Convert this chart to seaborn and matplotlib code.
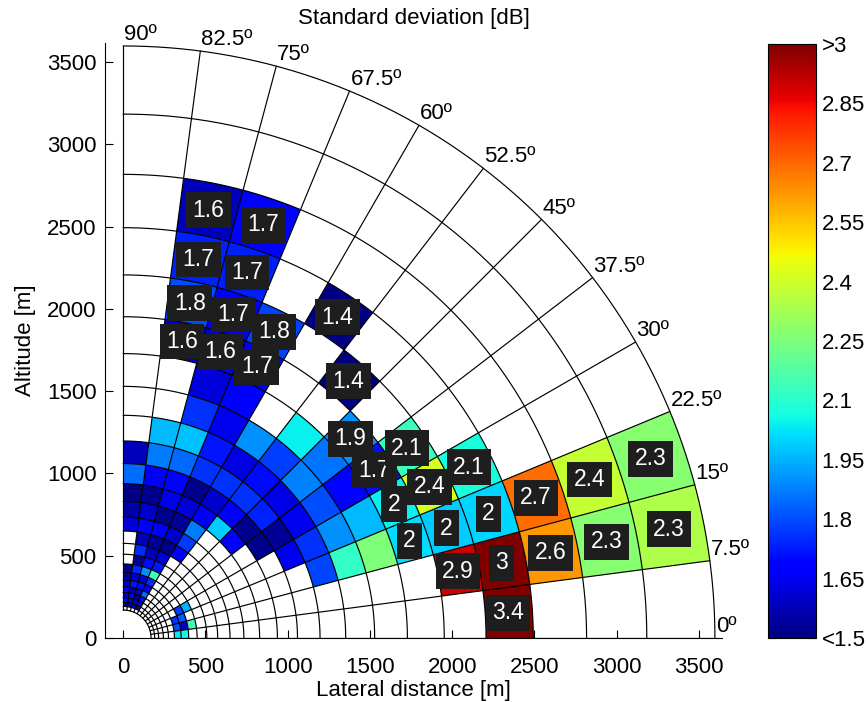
import numpy as np
import matplotlib
matplotlib.use("Agg")
import matplotlib.pyplot as plt
import seaborn as sns
from matplotlib.patches import Polygon
from matplotlib.collections import PatchCollection
from matplotlib.colors import Normalize

sns.set_style("ticks", {"xtick.direction": "in", "ytick.direction": "in"})
plt.rcParams['font.family'] = ['Liberation Sans', 'DejaVu Sans']
for k in ['text.color', 'axes.labelcolor', 'xtick.color', 'ytick.color', 'axes.edgecolor']:
    plt.rcParams[k] = 'black'

N = np.nan
# ring boundaries (m) and sector boundaries (deg)
ring_edges = [170, 192, 216, 245, 276, 312, 353, 399, 450, 509, 575, 650, 734,
              830, 938, 1060, 1197, 1353, 1529, 1728, 1952, 2206, 2493, 2817, 3183, 3597]
sector_edges = [0, 7.5, 15, 22.5, 30, 37.5, 45, 52.5, 60, 67.5, 75, 82.5, 90]
angle_labels = ["0º", "7.5º", "15º", "22.5º", "30º", "37.5º", "45º", "52.5º",
                "60º", "67.5º", "75º", "82.5º", "90º"]

# standard deviation [dB] per sector (0-7.5 deg ... 82.5-90 deg), rings inner -> outer
sd_sector_00 = [N, N, N, N, N, 2.03, 2.06, N, N, N, N, N, N, N, N, N, N, N, N, N, N, 3.40, N, N, N]
sd_sector_01 = [N, N, N, N, N, 1.80, 1.60, 2.15, N, N, N, N, N, N, N, N, N, N, N, N, 2.90, 3.00, 2.62, 2.27, 2.34]
sd_sector_02 = [N, N, N, N, N, 1.76, 1.82, N, N, N, N, N, N, N, N, N, 1.79, 2.12, 2.25, 2.01, 1.99, 2.00, 2.69, 2.38, 2.27]
sd_sector_03 = [N, N, N, N, N, N, 1.78, 1.95, N, N, N, N, N, N, N, 1.65, 1.76, 1.90, 1.96, 2.04, 2.41, 2.07, N, N, N]
sd_sector_04 = [N, N, N, N, N, N, N, N, N, N, N, N, N, N, 1.52, 1.53, 1.65, 1.80, 1.69, 1.71, 2.13, N, N, N, N]
sd_sector_05 = [N, N, N, N, N, N, N, N, N, N, N, N, N, 1.69, 1.52, 1.74, 1.64, 1.88, 1.86, 1.90, N, N, N, N, N]
sd_sector_06 = [N, N, N, N, N, N, N, N, N, N, N, N, N, 1.99, 1.67, 1.76, 1.70, 1.78, 2.04, N, 1.40, N, N, N, N]
sd_sector_07 = [N, N, N, N, N, N, N, N, N, N, 1.68, 1.77, 1.87, 1.68, 1.60, 1.76, 1.63, 1.90, N, N, N, 1.40, N, N, N]
sd_sector_08 = [N, 1.55, 1.60, 1.70, 1.85, 1.66, 1.75, 2.15, 1.72, 1.62, 1.52, 1.60, 1.53, 1.62, 1.52, 1.76, 1.72, 1.65, 1.68, 1.68, 1.79, N, N, N, N]
sd_sector_09 = [N, 1.58, 1.65, 1.52, 1.60, 1.70, 1.62, 1.90, 1.70, 1.58, 1.53, 1.68, 1.52, 1.65, 1.69, 1.84, 1.97, 1.76, 1.62, 1.63, 1.68, 1.73, 1.69, N, N]
sd_sector_10 = [N, 1.55, 1.62, 1.70, 1.55, 1.72, 1.60, 1.75, 1.52, 1.75, 1.58, 1.68, 1.60, 1.52, 1.66, 1.87, 1.96, N, N, 1.60, 1.80, 1.74, 1.58, N, N]
sd_sector_11 = [N, 1.55, 1.70, 1.60, 1.69, 1.62, 1.55, 1.52, N, N, N, 1.62, 1.55, 1.50, 1.85, 1.58, N, N, N, N, N, N, N, N, N]

first_labelled_ring = 19
cbar_ticks = [1.5, 1.65, 1.8, 1.95, 2.1, 2.25, 2.4, 2.55, 2.7, 2.85, 3.0]
cbar_ticklabels = ["<1.5", "1.65", "1.8", "1.95", "2.1", "2.25", "2.4", "2.55", "2.7", "2.85", ">3"]
axis_ticks = [0, 500, 1000, 1500, 2000, 2500, 3000, 3500]

sectors = [sd_sector_00, sd_sector_01, sd_sector_02, sd_sector_03, sd_sector_04, sd_sector_05,
           sd_sector_06, sd_sector_07, sd_sector_08, sd_sector_09, sd_sector_10, sd_sector_11]

cmap = matplotlib.colormaps["jet"]
norm = Normalize(vmin=1.5, vmax=3.0)

W, H = 866, 702
fig = plt.figure(figsize=(W / 100, H / 100), dpi=100)
ax = fig.add_axes([105 / W, 64 / H, 617 / W, 595 / H])
cax = fig.add_axes([768 / W, 64 / H, 48 / W, 594 / H])

patches, vals, labels = [], [], []
for k, row in enumerate(sectors):
    a0, a1 = np.radians(sector_edges[k]), np.radians(sector_edges[k + 1])
    th = np.linspace(a0, a1, 20)
    for i, v in enumerate(row):
        if np.isnan(v):
            continue
        r0, r1 = ring_edges[i], ring_edges[i + 1]
        xs = np.concatenate([r1 * np.cos(th), r0 * np.cos(th[::-1])])
        ys = np.concatenate([r1 * np.sin(th), r0 * np.sin(th[::-1])])
        patches.append(Polygon(np.column_stack([xs, ys]), closed=True))
        vals.append(v)
        if i >= first_labelled_ring:
            rc = np.sqrt(r0 * r1)
            ac = 0.5 * (a0 + a1)
            labels.append((rc * np.cos(ac), rc * np.sin(ac), "%g" % round(v, 1)))

pc = PatchCollection(patches, cmap=cmap, norm=norm, edgecolor='none', linewidth=0)
pc.set_array(np.array(vals))
ax.add_collection(pc)

# grid of rings and radial lines
tt = np.radians(np.linspace(0, 90, 300))
for r in ring_edges:
    ax.plot(r * np.cos(tt), r * np.sin(tt), color='black', lw=0.85, zorder=3)
for a in sector_edges:
    ar = np.radians(a)
    ax.plot([ring_edges[0] * np.cos(ar), ring_edges[-1] * np.cos(ar)],
            [ring_edges[0] * np.sin(ar), ring_edges[-1] * np.sin(ar)],
            color='black', lw=0.85, zorder=3)
    ax.text(ring_edges[-1] * np.cos(ar) + 5, ring_edges[-1] * np.sin(ar) + 5,
            angle_labels[sector_edges.index(a)], ha='left', va='bottom', fontsize=16, zorder=5)

for x, y, s in labels:
    ax.text(x, y, s, ha='center', va='center', color='white', fontsize=16.5, zorder=6,
            bbox=dict(boxstyle='square,pad=0.28', fc='#1e1e1e', ec='none'))

ax.set_xlim(-110, 3640)
ax.set_ylim(0, 3615)
ax.set_xticks(axis_ticks)
ax.set_yticks(axis_ticks)
ax.tick_params(labelsize=16, direction='in', length=6, width=0.8, bottom=True, left=True)
ax.tick_params(axis='x', pad=14)
ax.tick_params(axis='y', pad=6)
for s in ['top', 'right']:
    ax.spines[s].set_visible(False)
for s in ['left', 'bottom']:
    ax.spines[s].set_linewidth(0.8)
ax.set_xlabel("Lateral distance [m]", fontsize=16, labelpad=1)
ax.set_ylabel("Altitude [m]", fontsize=16, labelpad=8)
ax.set_title("Standard deviation [dB]", fontsize=16, pad=14)

cb = fig.colorbar(pc, cax=cax, ticks=cbar_ticks)
cb.set_ticklabels(cbar_ticklabels)
cax.tick_params(labelsize=16, direction='in', length=5, width=0.8, left=True, right=True, pad=4)
cb.outline.set_linewidth(0.8)
cb.outline.set_edgecolor('black')

fig.savefig("out.png", dpi=100)
